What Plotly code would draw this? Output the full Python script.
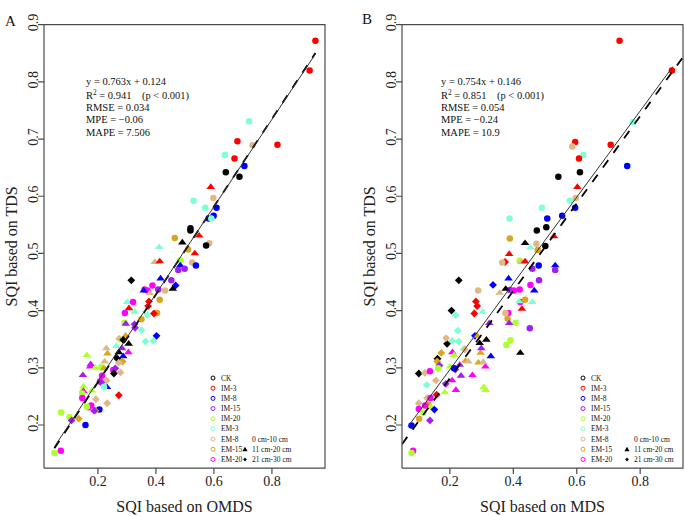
import plotly.graph_objects as go

W, H = 685, 516

# ---------------- data ----------------
groups = ["CK", "IM-3", "IM-8", "IM-15", "IM-20", "EM-3", "EM-8", "EM-15", "EM-20"]
depth_labels = ["0 cm-10 cm", "11 cm-20 cm", "21 cm-30 cm"]
x_ticks = [0.2, 0.4, 0.6, 0.8]
y_ticks = [0.2, 0.3, 0.4, 0.5, 0.6, 0.7, 0.8, 0.9]

# Panel A: SQI based on OMDS (x) vs SQI based on TDS (y)
a_x = [0.950, 0.930, 0.819, 0.721, 0.681, 0.733, 0.638, 0.671, 0.705, 0.641,
       0.688, 0.589, 0.598, 0.530, 0.570, 0.609, 0.599, 0.582, 0.591, 0.519,
       0.519, 0.584, 0.573, 0.549, 0.465, 0.491, 0.511, 0.411, 0.534, 0.483,
       0.396, 0.413, 0.525, 0.538, 0.484, 0.477, 0.499, 0.416, 0.453, 0.315,
       0.468, 0.458, 0.408, 0.431, 0.388, 0.361, 0.371, 0.358, 0.379, 0.413,
       0.301, 0.321, 0.376, 0.373, 0.307, 0.327, 0.293, 0.404, 0.393, 0.370,
       0.350, 0.292, 0.296, 0.326, 0.328, 0.350, 0.402, 0.364, 0.391, 0.273,
       0.295, 0.281, 0.287, 0.306, 0.263, 0.283, 0.229, 0.233, 0.272, 0.287,
       0.267, 0.305, 0.285, 0.272, 0.223, 0.162, 0.175, 0.173, 0.191, 0.212,
       0.221, 0.253, 0.260, 0.255, 0.278, 0.148, 0.214, 0.230, 0.207, 0.212,
       0.231, 0.150, 0.148, 0.150, 0.179, 0.221, 0.272, 0.146, 0.146, 0.193,
       0.232, 0.167, 0.177, 0.162, 0.205, 0.191, 0.187, 0.073, 0.102, 0.109,
       0.134, 0.157, 0.050, 0.072]
a_y = [0.872, 0.820, 0.690, 0.731, 0.696, 0.689, 0.672, 0.666, 0.653, 0.642,
       0.634, 0.616, 0.597, 0.592, 0.580, 0.580, 0.566, 0.561, 0.561, 0.544,
       0.540, 0.518, 0.514, 0.531, 0.527, 0.519, 0.507, 0.511, 0.500, 0.488,
       0.485, 0.486, 0.484, 0.479, 0.479, 0.471, 0.473, 0.456, 0.453, 0.453,
       0.444, 0.438, 0.437, 0.435, 0.444, 0.437, 0.435, 0.435, 0.430, 0.419,
       0.415, 0.415, 0.416, 0.408, 0.404, 0.398, 0.396, 0.396, 0.395, 0.392,
       0.385, 0.379, 0.377, 0.376, 0.370, 0.366, 0.356, 0.346, 0.347, 0.351,
       0.356, 0.348, 0.349, 0.342, 0.338, 0.334, 0.334, 0.325, 0.327, 0.320,
       0.316, 0.327, 0.311, 0.309, 0.311, 0.322, 0.306, 0.302, 0.300, 0.301,
       0.299, 0.296, 0.299, 0.290, 0.292, 0.287, 0.286, 0.278, 0.276, 0.274,
       0.266, 0.267, 0.261, 0.259, 0.260, 0.267, 0.252, 0.255, 0.247, 0.245,
       0.238, 0.231, 0.234, 0.232, 0.227, 0.225, 0.225, 0.222, 0.214, 0.208,
       0.211, 0.200, 0.151, 0.155]
a_group = ["IM-3", "IM-3", "IM-3", "EM-3", "IM-3", "EM-8", "EM-3", "IM-3", "IM-8", "CK",
           "CK", "IM-3", "EM-8", "EM-3", "EM-3", "IM-8", "IM-8", "IM-8", "EM-3", "CK",
           "CK", "EM-8", "CK", "IM-3", "EM-15", "CK", "EM-15", "EM-3", "IM-3", "IM-20",
           "EM-8", "IM-3", "EM-8", "IM-8", "IM-8", "IM-15", "IM-15", "IM-8", "IM-15", "CK",
           "IM-8", "CK", "IM-15", "EM-8", "EM-20", "EM-20", "EM-20", "IM-8", "EM-8", "EM-15",
           "EM-3", "EM-20", "IM-3", "IM-3", "IM-3", "EM-3", "EM-20", "EM-15", "IM-3", "EM-3",
           "EM-15", "IM-20", "IM-15", "IM-15", "IM-15", "EM-3", "IM-8", "EM-3", "EM-3", "EM-8",
           "EM-15", "IM-20", "CK", "CK", "EM-3", "IM-15", "EM-8", "EM-15", "CK", "IM-8",
           "CK", "EM-20", "EM-15", "EM-8", "EM-8", "IM-20", "IM-15", "EM-20", "IM-20", "IM-20",
           "EM-15", "EM-20", "IM-15", "CK", "EM-8", "IM-15", "EM-20", "EM-8", "EM-20", "IM-15",
           "IM-8", "IM-20", "IM-20", "EM-20", "IM-20", "EM-3", "IM-3", "IM-20", "EM-20", "EM-8",
           "EM-8", "EM-20", "EM-20", "IM-20", "IM-8", "EM-15", "IM-15", "IM-20", "IM-20", "IM-15",
           "EM-15", "IM-8", "IM-20", "EM-20"]
a_depth = [1, 1, 1, 1, 1, 1, 1, 1, 1, 1,
           1, 2, 1, 1, 1, 1, 1, 1, 1, 1,
           1, 1, 1, 2, 1, 2, 1, 2, 2, 1,
           2, 2, 1, 1, 2, 1, 1, 2, 1, 3,
           3, 2, 1, 1, 1, 1, 1, 2, 2, 1,
           2, 1, 3, 3, 2, 2, 1, 1, 3, 3,
           1, 1, 2, 3, 3, 3, 3, 3, 3, 3,
           2, 2, 3, 2, 2, 2, 2, 2, 2, 2,
           3, 2, 3, 3, 2, 2, 2, 2, 2, 1,
           2, 1, 3, 3, 3, 2, 1, 3, 1, 3,
           2, 2, 2, 2, 2, 1, 3, 1, 1, 3,
           3, 1, 1, 1, 1, 3, 3, 1, 1, 3,
           3, 1, 1, 1]

# Panel B: SQI based on MDS (x) vs SQI based on TDS (y)
b_x = [0.735, 0.900, 0.777, 0.707, 0.759, 0.595, 0.586, 0.621, 0.607, 0.610,
       0.542, 0.602, 0.597, 0.578, 0.595, 0.490, 0.554, 0.507, 0.388, 0.504,
       0.474, 0.528, 0.437, 0.473, 0.501, 0.454, 0.389, 0.477, 0.387, 0.420,
       0.426, 0.437, 0.374, 0.365, 0.228, 0.336, 0.289, 0.357, 0.385, 0.389,
       0.402, 0.420, 0.376, 0.454, 0.466, 0.481, 0.460, 0.480, 0.532, 0.532,
       0.282, 0.286, 0.277, 0.205, 0.218, 0.303, 0.384, 0.382, 0.375, 0.407,
       0.387, 0.324, 0.422, 0.418, 0.460, 0.437, 0.427, 0.452, 0.225, 0.191,
       0.188, 0.207, 0.228, 0.244, 0.247, 0.279, 0.286, 0.294, 0.315, 0.378,
       0.391, 0.422, 0.297, 0.299, 0.329, 0.208, 0.213, 0.173, 0.161, 0.160,
       0.167, 0.163, 0.102, 0.121, 0.137, 0.156, 0.127, 0.187, 0.200, 0.217,
       0.207, 0.219, 0.184, 0.235, 0.271, 0.231, 0.249, 0.258, 0.290, 0.312,
       0.305, 0.307, 0.313, 0.213, 0.158, 0.128, 0.132, 0.139, 0.102, 0.102,
       0.122, 0.140, 0.151, 0.116, 0.103, 0.137, 0.079, 0.084, 0.079]
b_y = [0.872, 0.820, 0.730, 0.690, 0.653, 0.695, 0.687, 0.672, 0.666, 0.642,
       0.634, 0.616, 0.597, 0.592, 0.580, 0.580, 0.566, 0.561, 0.561, 0.546,
       0.540, 0.530, 0.518, 0.517, 0.513, 0.510, 0.526, 0.506, 0.499, 0.487,
       0.485, 0.486, 0.485, 0.484, 0.453, 0.445, 0.435, 0.431, 0.456, 0.436,
       0.435, 0.437, 0.438, 0.445, 0.435, 0.453, 0.473, 0.479, 0.479, 0.471,
       0.416, 0.408, 0.395, 0.400, 0.392, 0.398, 0.396, 0.386, 0.396, 0.379,
       0.378, 0.378, 0.415, 0.416, 0.415, 0.419, 0.403, 0.369, 0.365, 0.342,
       0.352, 0.347, 0.346, 0.334, 0.332, 0.356, 0.356, 0.343, 0.349, 0.340,
       0.348, 0.326, 0.326, 0.334, 0.320, 0.327, 0.322, 0.326, 0.316, 0.311,
       0.304, 0.299, 0.290, 0.291, 0.294, 0.278, 0.270, 0.272, 0.302, 0.297,
       0.278, 0.261, 0.257, 0.286, 0.287, 0.305, 0.312, 0.311, 0.309, 0.302,
       0.310, 0.266, 0.261, 0.299, 0.253, 0.247, 0.236, 0.247, 0.238, 0.228,
       0.234, 0.231, 0.227, 0.222, 0.211, 0.208, 0.199, 0.155, 0.151]
b_group = ["IM-3", "IM-3", "EM-3", "IM-3", "IM-8", "IM-3", "EM-8", "EM-3", "IM-3", "CK",
           "CK", "IM-3", "EM-8", "EM-3", "IM-8", "EM-3", "IM-8", "IM-8", "EM-3", "CK",
           "CK", "IM-3", "CK", "EM-8", "CK", "EM-3", "EM-15", "EM-15", "IM-3", "IM-20",
           "EM-8", "IM-3", "IM-3", "EM-8", "CK", "IM-8", "EM-8", "EM-8", "IM-8", "IM-15",
           "EM-20", "EM-20", "CK", "EM-20", "IM-8", "IM-15", "IM-15", "IM-8", "IM-8", "IM-15",
           "IM-3", "IM-3", "IM-3", "CK", "EM-3", "EM-3", "EM-20", "EM-15", "EM-8", "IM-20",
           "IM-15", "IM-15", "EM-20", "EM-3", "EM-3", "EM-15", "IM-3", "IM-15", "EM-3", "CK",
           "EM-8", "EM-3", "EM-3", "EM-3", "EM-8", "IM-8", "EM-15", "CK", "CK", "IM-20",
           "IM-20", "CK", "EM-15", "IM-15", "IM-8", "EM-20", "IM-20", "EM-15", "CK", "EM-15",
           "IM-15", "IM-20", "CK", "EM-8", "EM-20", "EM-8", "EM-3", "IM-15", "IM-20", "IM-15",
           "EM-20", "EM-20", "IM-20", "IM-15", "EM-20", "IM-15", "EM-15", "EM-8", "EM-15", "EM-20",
           "EM-8", "IM-20", "IM-20", "IM-8", "IM-3", "EM-8", "EM-15", "EM-20", "EM-8", "EM-20",
           "EM-20", "IM-20", "IM-8", "IM-20", "EM-15", "IM-15", "IM-8", "EM-20", "IM-20"]
b_depth = [1, 1, 1, 1, 1, 1, 1, 1, 1, 1,
           1, 2, 1, 1, 1, 1, 1, 1, 1, 1,
           1, 2, 2, 1, 1, 2, 1, 1, 2, 1,
           2, 2, 3, 1, 3, 3, 1, 2, 2, 1,
           1, 1, 2, 1, 2, 1, 1, 1, 2, 1,
           3, 3, 3, 3, 3, 2, 1, 1, 1, 1,
           2, 2, 1, 2, 2, 1, 2, 1, 3, 3,
           3, 3, 3, 2, 3, 3, 2, 2, 2, 1,
           1, 2, 2, 2, 2, 2, 2, 3, 3, 3,
           3, 1, 3, 3, 1, 3, 3, 3, 2, 3,
           2, 2, 2, 2, 2, 2, 2, 2, 2, 2,
           2, 2, 2, 1, 3, 3, 1, 1, 3, 1,
           1, 2, 3, 1, 1, 3, 1, 1, 1]

# fitted lines: (slope, intercept, x start, x end)
a_fit = [0.763, 0.124, 0.050, 0.950]
a_ref = [0.768, 0.121, 0.050, 0.950]
b_fit = [0.754, 0.146, 0.068, 0.903]
b_ref = [0.764, 0.129, 0.049, 0.935]

a_stats = ["y = 0.763x + 0.124", "R<sup>2</sup> = 0.941    (p < 0.001)",
           "RMSE = 0.034", "MPE = \u22120.06", "MAPE = 7.506"]
b_stats = ["y = 0.754x + 0.146", "R<sup>2</sup> = 0.851    (p < 0.001)",
           "RMSE = 0.054", "MPE = \u22120.24", "MAPE = 10.9"]

# ---------------- styles ----------------
colors = {"CK": "#000000", "IM-3": "#ff0000", "IM-8": "#0000ff", "IM-15": "#a020f0",
          "IM-20": "#adff2f", "EM-3": "#7fffd4", "EM-8": "#deb887", "EM-15": "#daa520",
          "EM-20": "#ff00ff"}
symbols = {1: "circle", 2: "triangle-up", 3: "diamond"}
sizes = {1: 6.5, 2: 7.5, 3: 6}
FONT = "Liberation Serif"
FRAME = "#4a4a4a"

A_LEFT, A_RIGHT, B_LEFT, B_RIGHT, TOP, BOTTOM = 44, 325, 402, 683, 14, 467
A_XR = [0.014, 0.983]
B_XR = [0.049, 0.935]
YR = [0.1247, 0.9]
ydom = [1 - BOTTOM / H, 1 - TOP / H]

fig = go.Figure()

def add_panel(xs, ys, grp, dep, fit, ref, xa, ya):
    fig.add_trace(go.Scatter(
        x=xs, y=ys, mode="markers", xaxis=xa, yaxis=ya, showlegend=False,
        hoverinfo="skip",
        marker=dict(color=[colors[g] for g in grp], opacity=1,
                    symbol=[symbols[d] for d in dep],
                    size=[sizes[d] for d in dep], line=dict(width=0))))
    for p, dash, wid, col in [(ref, "dash", 1.8, "#000000"), (fit, "solid", 1.0, "#333333")]:
        fig.add_trace(go.Scatter(
            x=[p[2], p[3]], y=[p[0] * p[2] + p[1], p[0] * p[3] + p[1]],
            mode="lines", xaxis=xa, yaxis=ya, showlegend=False, hoverinfo="skip",
            line=dict(color=col, width=wid, dash=dash)))

add_panel(a_x, a_y, a_group, a_depth, a_fit, a_ref, "x", "y")
add_panel(b_x, b_y, b_group, b_depth, b_fit, b_ref, "x2", "y2")

# frame + tick marks drawn as line traces on invisible overlay axes (0..1 = plot box)
TL = 6  # tick length in px
frame_axes = {}
for k, (l, r, xr, xa, ya) in enumerate([(A_LEFT, A_RIGHT, A_XR, "x3", "y3"),
                                         (B_LEFT, B_RIGHT, B_XR, "x4", "y4")]):
    pw, ph = r - l, BOTTOM - TOP
    padl, padr, padt, padb = 10, min(10, W - r), 6, 10
    fx, fy = [0, 1, 1, 0, 0], [0, 0, 1, 1, 0]
    for v in x_ticks:
        f = (v - xr[0]) / (xr[1] - xr[0])
        fx += [None, f, f]
        fy += [None, 0, -TL / ph]
    for v in y_ticks:
        g = (v - YR[0]) / (YR[1] - YR[0])
        fx += [None, 0, -TL / pw]
        fy += [None, g, g]
    fig.add_trace(go.Scatter(x=fx, y=fy, mode="lines", xaxis=xa, yaxis=ya,
                             showlegend=False, hoverinfo="skip",
                             line=dict(color=FRAME, width=1.2)))
    frame_axes["xaxis" + xa[1:]] = dict(
        domain=[(l - padl) / W, (r + padr) / W],
        range=[-padl / pw, 1 + padr / pw], visible=False, fixedrange=True,
        anchor=ya)
    frame_axes["yaxis" + ya[1:]] = dict(
        domain=[1 - (BOTTOM + padb) / H, 1 - (TOP - padt) / H],
        range=[-padb / ph, 1 + padt / ph], visible=False, fixedrange=True,
        anchor=xa)

axis_common = dict(showline=False, ticks="outside", ticklen=6,
                   tickcolor="rgba(0,0,0,0)", showgrid=False, zeroline=False,
                   tickfont=dict(family=FONT, size=14, color="#222"))
xtitle_font = dict(family=FONT, size=16)
fig.update_layout(
    width=W, height=H, margin=dict(l=0, r=0, t=0, b=0),
    paper_bgcolor="white", plot_bgcolor="rgba(0,0,0,0)",
    font=dict(family=FONT, color="#222"),
    xaxis=dict(domain=[A_LEFT / W, A_RIGHT / W], range=A_XR,
               tickvals=x_ticks, ticktext=[f"{v:.1f}" for v in x_ticks],
               ticklabelstandoff=-6,
               title=dict(text="SQI based on OMDS", font=xtitle_font, standoff=12),
               anchor="y", **axis_common),
    yaxis=dict(domain=ydom, range=YR,
               tickvals=y_ticks, tickangle=-90, ticklabelstandoff=-7,
               title=dict(text="SQI based on TDS", font=xtitle_font, standoff=4),
               anchor="x", **axis_common),
    xaxis2=dict(domain=[B_LEFT / W, B_RIGHT / W], range=B_XR,
                tickvals=x_ticks, ticktext=[f"{v:.1f}" for v in x_ticks],
                ticklabelstandoff=-6,
                title=dict(text="SQI based on MDS", font=xtitle_font, standoff=12),
                anchor="y2", **axis_common),
    yaxis2=dict(domain=ydom, range=YR,
                tickvals=y_ticks, tickangle=-90, ticklabelstandoff=-7,
                title=dict(text="SQI based on TDS", font=xtitle_font, standoff=4),
                anchor="x2", **axis_common),
    **frame_axes,
)

annotations = []
shapes = []

def px_ann(text, x, y, size=12, xanchor="left"):
    annotations.append(dict(text=text, x=x / W, y=1 - y / H, xref="paper", yref="paper",
                            xanchor=xanchor, yanchor="middle", showarrow=False,
                            borderpad=0, font=dict(family=FONT, size=size, color="#111")))

# panel labels
px_ann("A", 4, 10, size=15)
px_ann("B", 361, 8, size=15)

# statistics text
line_y = [72, 86, 99, 111, 124]
for txt, yy in zip(a_stats, line_y):
    px_ann(txt, 85, yy, size=10.5)
for txt, yy in zip(b_stats, line_y):
    px_ann(txt, 440, yy, size=10.5)

# manual legends
def legend(cx, tx, dx, dtx, y0=375, dy=10.4):
    for i, g in enumerate(groups):
        yy = y0 + i * dy
        shapes.append(dict(type="circle", xref="paper", yref="paper",
                           xsizemode="pixel", ysizemode="pixel",
                           xanchor=cx / W, yanchor=1 - yy / H,
                           x0=-2, x1=2, y0=-2, y1=2,
                           line=dict(color=colors[g], width=1)))
        px_ann(g, tx, yy, size=7.5)
    for j, lab in enumerate(depth_labels):
        yy = y0 + (6 + j) * dy
        if j == 0:
            path = "M -2 0 A 2 2 0 1 1 2 0 A 2 2 0 1 1 -2 0 Z"
        elif j == 1:
            path = "M -2.6 -2 L 2.6 -2 L 0 2.6 Z"
        else:
            path = "M 0 2 L 1.8 0 L 0 -2 L -1.8 0 Z"
        shapes.append(dict(type="path", xref="paper", yref="paper",
                           xsizemode="pixel", ysizemode="pixel",
                           xanchor=dx / W, yanchor=1 - yy / H, path=path,
                           fillcolor="black", line=dict(width=0)))
        px_ann(lab, dtx, yy, size=7.5)

legend(213, 220, 245, 251)
legend(583, 590, 627, 633)

fig.update_layout(annotations=annotations, shapes=shapes)
fig.write_html("out.html", config={"displayModeBar": False},
               post_script="document.body.style.margin='0px';")
